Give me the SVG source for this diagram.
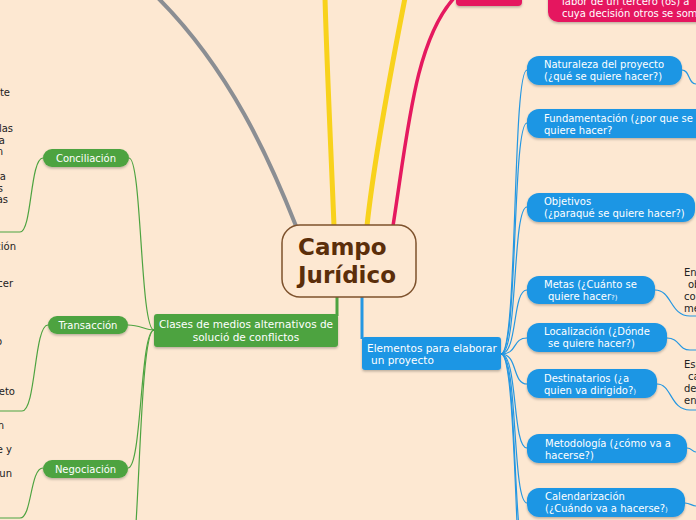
<svg xmlns="http://www.w3.org/2000/svg" width="696" height="520" viewBox="0 0 696 520">
<style>
.bg{fill:#fde8d2}
.t{font-family:"DejaVu Sans",Verdana,sans-serif;font-size:10px}
.w{fill:#ffffff}
.d{fill:#222222}
.m{font-size:10.5px}
.thin{fill:none;stroke-width:1.2}
.g{stroke:#4da340}
.b{stroke:#2497e2}
.gn{fill:#4da340}
.bn{fill:#1e96e4}
.pn{fill:#e5195f}
.sm{font-size:7px}
</style>
<defs>
<filter id="sh" x="-10%" y="-20%" width="120%" height="150%">
<feDropShadow dx="0" dy="1.5" stdDeviation="1" flood-color="#000" flood-opacity="0.25"/>
</filter>
</defs>
<rect class="bg" x="0" y="0" width="696" height="520"/>

<g id="connectors">
<path d="M296,226 C270,160 230,70 158,-2" fill="none" stroke="#8b8e93" stroke-width="4"/>
<path d="M334,226 C331,150 327,70 325,-2" fill="none" stroke="#f8d21c" stroke-width="5"/>
<path d="M367,226 C375,150 395,50 405,-2" fill="none" stroke="#f8d21c" stroke-width="5"/>
<path d="M393,226 C408,130 415,40 455,-3" fill="none" stroke="#e5195f" stroke-width="3.5"/>
<path d="M337,297 L337,316" fill="none" stroke="#4da340" stroke-width="3"/>
<path d="M362,297 L362,339" fill="none" stroke="#2497e2" stroke-width="3"/>
<!-- green -->
<path class="thin g" d="M154,330 C140,330 142,158 129,158"/>
<path class="thin g" d="M154,330 C145,330 140,325 128,325"/>
<path class="thin g" d="M154,330 C140,330 142,468 128,468"/>
<path class="thin g" d="M154,330 C138,330 140,580 128,580"/>
<path class="thin g" d="M43,158 C30,158 32,232 20,232 L0,232"/>
<path class="thin g" d="M48,325 C34,325 36,411 22,411 L0,411"/>
<path class="thin g" d="M43,468 C30,468 32,518 20,518 L0,518"/>
<!-- blue -->
<path class="thin b" d="M501,354 C518,354 512,70 527,70"/>
<path class="thin b" d="M501,354 C518,354 512,123 527,123"/>
<path class="thin b" d="M501,354 C518,354 512,207 527,207"/>
<path class="thin b" d="M501,354 C518,354 512,290 527,290"/>
<path class="thin b" d="M501,354 C518,354 512,338 527,338"/>
<path class="thin b" d="M501,354 C518,354 512,384 527,384"/>
<path class="thin b" d="M501,354 C518,354 512,448 527,448"/>
<path class="thin b" d="M501,354 C518,354 512,503 527,503"/>
<path class="thin b" d="M501,354 C518,354 512,560 527,560"/>
<path class="thin b" d="M501,354 C518,354 514,620 527,620"/>
<path class="thin b" d="M682,70 C690,70 688,84 696,84"/>
<path class="thin b" d="M655,290 C672,290 670,316 690,316 L696,316"/>
<path class="thin b" d="M667,338 C680,338 678,350 690,350 L696,350"/>
<path class="thin b" d="M657,384 C672,384 670,410 690,410 L696,410"/>
<path class="thin b" d="M687,448 C692,448 692,452 696,452"/>
<path class="thin b" d="M685,503 C690,503 692,506 696,506"/>
</g>

<g id="central">
<rect x="282" y="225" width="134" height="72" rx="18" fill="#fde8d2" stroke="#7e522d" stroke-width="1.5"/>
<text x="298" y="255" font-family="'DejaVu Sans',Verdana,sans-serif" font-size="23" font-weight="bold" fill="#5b2e0a">Campo</text>
<text x="298" y="283" font-family="'DejaVu Sans',Verdana,sans-serif" font-size="23" font-weight="bold" fill="#5b2e0a">Jurídico</text>
</g>

<g id="pink1"><rect class="pn" x="456" y="-24" width="66" height="30" rx="4" filter="url(#sh)"/></g>
<g id="pink2">
<rect class="pn" x="548" y="-20" width="170" height="42" rx="10" filter="url(#sh)"/>
<text class="t w" x="562" y="4.5">labor de un tercero (os) a</text>
<text class="t w" x="562" y="16.5">cuya decisión otros se som</text>
</g>

<g id="clases">
<rect class="gn" x="154" y="314" width="184" height="33" rx="3" filter="url(#sh)"/>
<text class="t w m" x="246" y="328" text-anchor="middle">Clases de medios alternativos de</text>
<text class="t w m" x="246" y="341" text-anchor="middle">solució de conflictos</text>
</g>
<g id="conciliacion">
<rect class="gn" x="43" y="149" width="86" height="18" rx="9" filter="url(#sh)"/>
<text class="t w" x="86" y="162" text-anchor="middle">Conciliación</text>
</g>
<g id="transaccion">
<rect class="gn" x="48" y="316" width="80" height="18" rx="9" filter="url(#sh)"/>
<text class="t w" x="88" y="329" text-anchor="middle">Transacción</text>
</g>
<g id="negociacion">
<rect class="gn" x="43" y="460" width="85" height="18" rx="9" filter="url(#sh)"/>
<text class="t w" x="85.5" y="473" text-anchor="middle">Negociación</text>
</g>

<g id="left-texts">
<text class="t d" x="10" y="96" text-anchor="end">te</text>
<text class="t d" x="13" y="132" text-anchor="end">las</text>
<text class="t d" x="5" y="144" text-anchor="end">a</text>
<text class="t d" x="3" y="155" text-anchor="end">n</text>
<text class="t d" x="6" y="180" text-anchor="end">ra</text>
<text class="t d" x="3" y="192" text-anchor="end">s</text>
<text class="t d" x="8" y="203" text-anchor="end">as</text>
<text class="t d" x="16" y="250" text-anchor="end">ción</text>
<text class="t d" x="13" y="287" text-anchor="end">cer</text>
<text class="t d" x="2" y="345" text-anchor="end">o</text>
<text class="t d" x="15" y="395" text-anchor="end">eto</text>
<text class="t d" x="4" y="429" text-anchor="end">n</text>
<text class="t d" x="12" y="453" text-anchor="end">e y</text>
<text class="t d" x="12" y="477" text-anchor="end">un</text>
</g>

<g id="elementos">
<rect class="bn" x="362" y="337" width="139" height="33" rx="3" filter="url(#sh)"/>
<text class="t w m" x="367" y="352">Elementos para elaborar</text>
<text class="t w m" x="371" y="364">un proyecto</text>
</g>
<g id="naturaleza">
<rect class="bn" x="527" y="56" width="155" height="29" rx="12" filter="url(#sh)"/>
<text class="t w" x="544" y="68">Naturaleza del proyecto</text>
<text class="t w" x="544" y="80">(¿qué se quiere hacer?)</text>
</g>
<g id="fundamentacion">
<rect class="bn" x="527" y="109" width="190" height="29" rx="12" filter="url(#sh)"/>
<text class="t w" x="544" y="122">Fundamentación (¿por que se</text>
<text class="t w" x="544" y="134">quiere hacer?</text>
</g>
<g id="objetivos">
<rect class="bn" x="527" y="193" width="168" height="29" rx="12" filter="url(#sh)"/>
<text class="t w" x="544" y="205">Objetivos</text>
<text class="t w" x="544" y="217">(¿paraqué se quiere hacer?)</text>
</g>
<g id="metas">
<rect class="bn" x="527" y="276" width="128" height="28" rx="12" filter="url(#sh)"/>
<text class="t w" x="544" y="288">Metas (¿Cuánto se</text>
<text class="t w" x="548" y="300">quiere hacer<tspan class="sm">?)</tspan></text>
</g>
<g id="localizacion">
<rect class="bn" x="527" y="323" width="140" height="29" rx="12" filter="url(#sh)"/>
<text class="t w" x="544" y="335">Localización (¿Dónde</text>
<text class="t w" x="548" y="347">se quiere hacer?)</text>
</g>
<g id="destinatarios">
<rect class="bn" x="527" y="369" width="130" height="29" rx="12" filter="url(#sh)"/>
<text class="t w" x="544" y="382">Destinatarios (¿a</text>
<text class="t w" x="544" y="394">quien va dirigido?<tspan class="sm">)</tspan></text>
</g>
<g id="metodologia">
<rect class="bn" x="527" y="434" width="160" height="29" rx="12" filter="url(#sh)"/>
<text class="t w" x="545" y="447">Metodología (¿cómo va a</text>
<text class="t w" x="545" y="459">hacerse?)</text>
</g>
<g id="calendarizacion">
<rect class="bn" x="527" y="488" width="158" height="29" rx="12" filter="url(#sh)"/>
<text class="t w" x="545" y="500">Calendarización</text>
<text class="t w" x="545" y="512">(¿Cuándo va a hacerse?<tspan class="sm">)</tspan></text>
</g>

<g id="right-texts">
<text class="t d" x="684" y="276">En</text>
<text class="t d" x="688" y="288">ob</text>
<text class="t d" x="684" y="300">co</text>
<text class="t d" x="684" y="312">me</text>
<text class="t d" x="684" y="368">Esp</text>
<text class="t d" x="688" y="380">ca</text>
<text class="t d" x="684" y="392">de</text>
<text class="t d" x="684" y="404">en</text>
</g>
</svg>
